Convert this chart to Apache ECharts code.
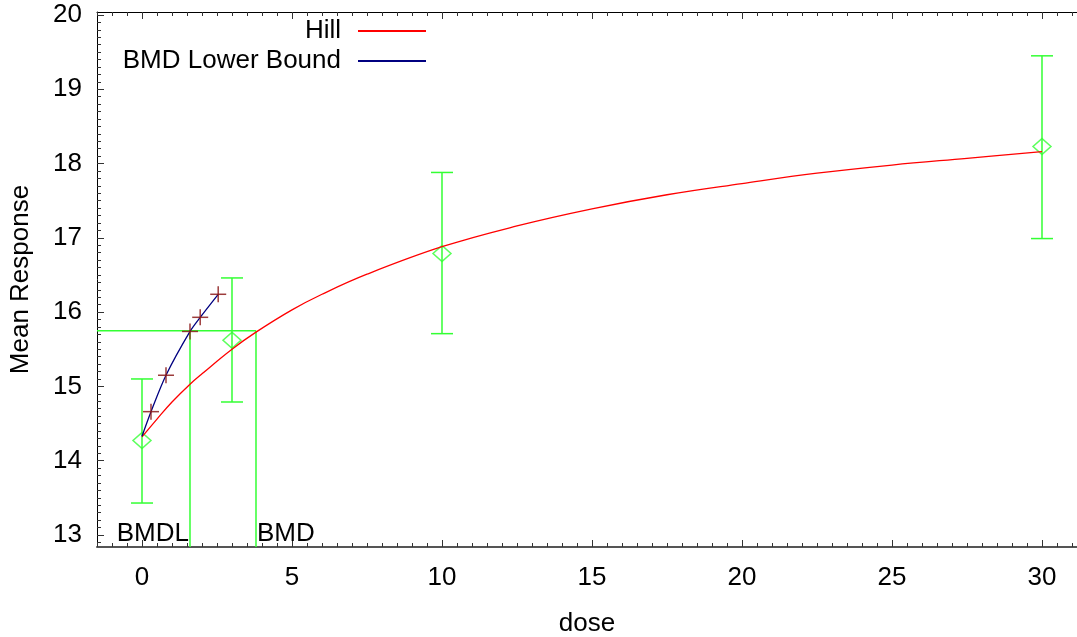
<!DOCTYPE html>
<html>
<head>
<meta charset="utf-8">
<script src="https://cdn.jsdelivr.net/npm/echarts@6/dist/echarts.min.js"></script>
<style>
html,body{margin:0;padding:0;background:#fff;width:1077px;height:637px;overflow:hidden;}
#chart{width:1077px;height:637px;display:block;overflow:hidden;}
</style>
</head>
<body>
<div id="chart"></div>
<script>
// ---- data ----
const doses = [0, 3, 10, 30];
const means = [14.27, 15.62, 16.79, 18.23];
const errLow = [13.43, 14.79, 15.71, 16.99];
const errHigh = [15.10, 16.46, 17.88, 19.45];

const hillX = [0, 0.5, 1, 1.6, 2, 3, 3.8, 5, 6, 7.5, 10, 12.5, 15, 17.5, 20, 22.5, 25, 27.5, 30];
const hillY = [14.32, 14.56, 14.79, 15.03, 15.17, 15.50, 15.73, 16.03, 16.24, 16.51, 16.88, 17.16, 17.39, 17.58, 17.73, 17.87, 17.98, 18.07, 18.16];

const lbX = [0, 0.3, 0.8, 1.6, 1.94, 2.54];
const lbY = [14.33, 14.66, 15.15, 15.74, 15.93, 16.24];
const lbMarkerFrom = 1; // plus markers on points after the first

const bmdValue = 3.8;
const bmdlValue = 1.6;
const bmdResponse = 15.75;

const xTicks = [0, 5, 10, 15, 20, 25, 30];
const yTicks = [13, 14, 15, 16, 17, 18, 19, 20];
const xRange = [-1.5, 31.1667];
const yRange = [12.838, 20.04];

// minor tick positions (axis decoration)
const xMinor = [];
for (let v = -1.5; v <= 31.01; v += 0.5) xMinor.push(Math.round(v * 10) / 10);
const yMinor = [];
for (let v = 12.9; v <= 20.001; v += 0.1) yMinor.push(Math.round(v * 10) / 10);

const FONT = 'Liberation Sans';
const FS = 26;
const GREEN = '#33ff33';
const RED = '#ff0000';
const NAVY = '#000080';
const PLUS = '#8b1a1a';

const chart = echarts.init(document.getElementById('chart'), null, {renderer: 'canvas', width: 1077, height: 637});

function xAxisDef(pos, major) {
  return {
    type: 'value', min: xRange[0], max: xRange[1], position: pos,
    axisLine: {show: major, onZero: false, lineStyle: {color: pos === 'bottom' ? '#555' : '#000', width: pos === 'bottom' ? 2 : 1}},
    axisTick: {show: true, inside: true, length: major ? 7 : 4, customValues: major ? xTicks : xMinor, lineStyle: {color: '#333', width: 1}},
    axisLabel: {show: major && pos === 'bottom', customValues: xTicks, fontFamily: FONT, fontSize: FS, color: '#000', margin: 18},
    splitLine: {show: false},
    name: (major && pos === 'bottom') ? 'dose' : '',
    nameLocation: 'middle', nameGap: 64,
    nameTextStyle: {fontFamily: FONT, fontSize: FS, color: '#000'}
  };
}
function yAxisDef(major) {
  return {
    type: 'value', min: yRange[0], max: yRange[1], position: 'left',
    axisLine: {show: major, onZero: false, lineStyle: {color: '#000', width: 1}},
    axisTick: {show: true, inside: true, length: major ? 7 : 4, customValues: major ? yTicks : yMinor, lineStyle: {color: '#333', width: 1}},
    axisLabel: {show: major, customValues: yTicks, fontFamily: FONT, fontSize: FS, color: '#000', margin: 15},
    splitLine: {show: false},
    name: major ? 'Mean Response' : '',
    nameLocation: 'middle', nameGap: 63,
    nameTextStyle: {fontFamily: FONT, fontSize: FS, color: '#000'}
  };
}

const legendText = {fontFamily: FONT, fontSize: FS, color: '#000', padding: [0, 12, 0, 0]};

const option = {
  backgroundColor: '#fff',
  animation: false,
  grid: {left: 97, right: 0, top: 12, bottom: 90, containLabel: false, outerBoundsMode: 'none'},
  legend: [
    {data: ['Hill'], right: 651, top: 18, align: 'right', padding: 0, itemWidth: 68, itemHeight: 2, icon: 'rect', textStyle: legendText, selectedMode: false},
    {data: ['BMD Lower Bound'], right: 651, top: 48, align: 'right', padding: 0, itemWidth: 68, itemHeight: 2, icon: 'rect', textStyle: legendText, selectedMode: false}
  ],
  xAxis: [xAxisDef('bottom', true), xAxisDef('bottom', false), xAxisDef('top', true), xAxisDef('top', false)],
  yAxis: [yAxisDef(true), yAxisDef(false)],
  series: [
    {
      name: 'BMD lines', type: 'custom', xAxisIndex: 0, yAxisIndex: 0, z: 2,
      data: [[bmdlValue, bmdValue, bmdResponse]],
      renderItem: function (params, api) {
        const cs = params.coordSys;
        const left = cs.x, bottom = cs.y + cs.height;
        const pL = api.coord([api.value(0), api.value(2)]);
        const pB = api.coord([api.value(1), api.value(2)]);
        const ls = {stroke: GREEN, lineWidth: 1.5};
        return {type: 'group', children: [
          {type: 'line', shape: {x1: left, y1: pB[1], x2: pB[0], y2: pB[1]}, style: ls},
          {type: 'line', shape: {x1: pL[0], y1: bottom, x2: pL[0], y2: pL[1]}, style: ls},
          {type: 'line', shape: {x1: pB[0], y1: bottom, x2: pB[0], y2: pB[1]}, style: ls},
          {type: 'text', x: pL[0] - 1, y: bottom, style: {text: 'BMDL', fill: '#000', font: FS + 'px ' + FONT, align: 'right', verticalAlign: 'bottom'}},
          {type: 'text', x: pB[0] + 1, y: bottom, style: {text: 'BMD', fill: '#000', font: FS + 'px ' + FONT, align: 'left', verticalAlign: 'bottom'}}
        ]};
      }
    },
    {
      name: 'Error bars', type: 'custom', xAxisIndex: 0, yAxisIndex: 0, z: 3,
      data: doses.map((d, i) => [d, errLow[i], errHigh[i]]),
      encode: {x: 0, y: [1, 2]},
      renderItem: function (params, api) {
        const lo = api.coord([api.value(0), api.value(1)]);
        const hi = api.coord([api.value(0), api.value(2)]);
        const hw = 11;
        const ls = {stroke: GREEN, lineWidth: 1.5};
        return {type: 'group', children: [
          {type: 'line', shape: {x1: lo[0], y1: lo[1], x2: hi[0], y2: hi[1]}, style: ls},
          {type: 'line', shape: {x1: lo[0] - hw, y1: lo[1], x2: lo[0] + hw, y2: lo[1]}, style: ls},
          {type: 'line', shape: {x1: hi[0] - hw, y1: hi[1], x2: hi[0] + hw, y2: hi[1]}, style: ls}
        ]};
      }
    },
    {
      name: 'Means', type: 'scatter', xAxisIndex: 0, yAxisIndex: 0, z: 4,
      symbol: 'diamond', symbolSize: [18, 16],
      itemStyle: {color: 'rgba(0,0,0,0)', borderColor: GREEN, borderWidth: 1.5},
      data: doses.map((d, i) => [d, means[i]])
    },
    {
      name: 'Hill', type: 'line', xAxisIndex: 0, yAxisIndex: 0, z: 5,
      smooth: 0.4, showSymbol: false, symbol: 'none',
      lineStyle: {color: RED, width: 1.3}, itemStyle: {color: RED},
      data: hillX.map((x, i) => [x, hillY[i]])
    },
    {
      name: 'BMD Lower Bound', type: 'line', xAxisIndex: 0, yAxisIndex: 0, z: 5,
      smooth: 0.3, showSymbol: false, symbol: 'none',
      lineStyle: {color: NAVY, width: 1.3}, itemStyle: {color: NAVY},
      data: lbX.map((x, i) => [x, lbY[i]])
    },
    {
      name: 'Lower bound points', type: 'custom', xAxisIndex: 0, yAxisIndex: 0, z: 6,
      data: lbX.slice(lbMarkerFrom).map((x, i) => [x, lbY[i + lbMarkerFrom]]),
      renderItem: function (params, api) {
        const p = api.coord([api.value(0), api.value(1)]);
        const ls = {stroke: PLUS, lineWidth: 1.5, opacity: 0.85};
        return {type: 'group', children: [
          {type: 'line', shape: {x1: p[0] - 8, y1: p[1], x2: p[0] + 8, y2: p[1]}, style: ls},
          {type: 'line', shape: {x1: p[0], y1: p[1] - 8, x2: p[0], y2: p[1] + 8}, style: ls}
        ]};
      }
    }
  ]
};
chart.setOption(option);
</script>
</body>
</html>
